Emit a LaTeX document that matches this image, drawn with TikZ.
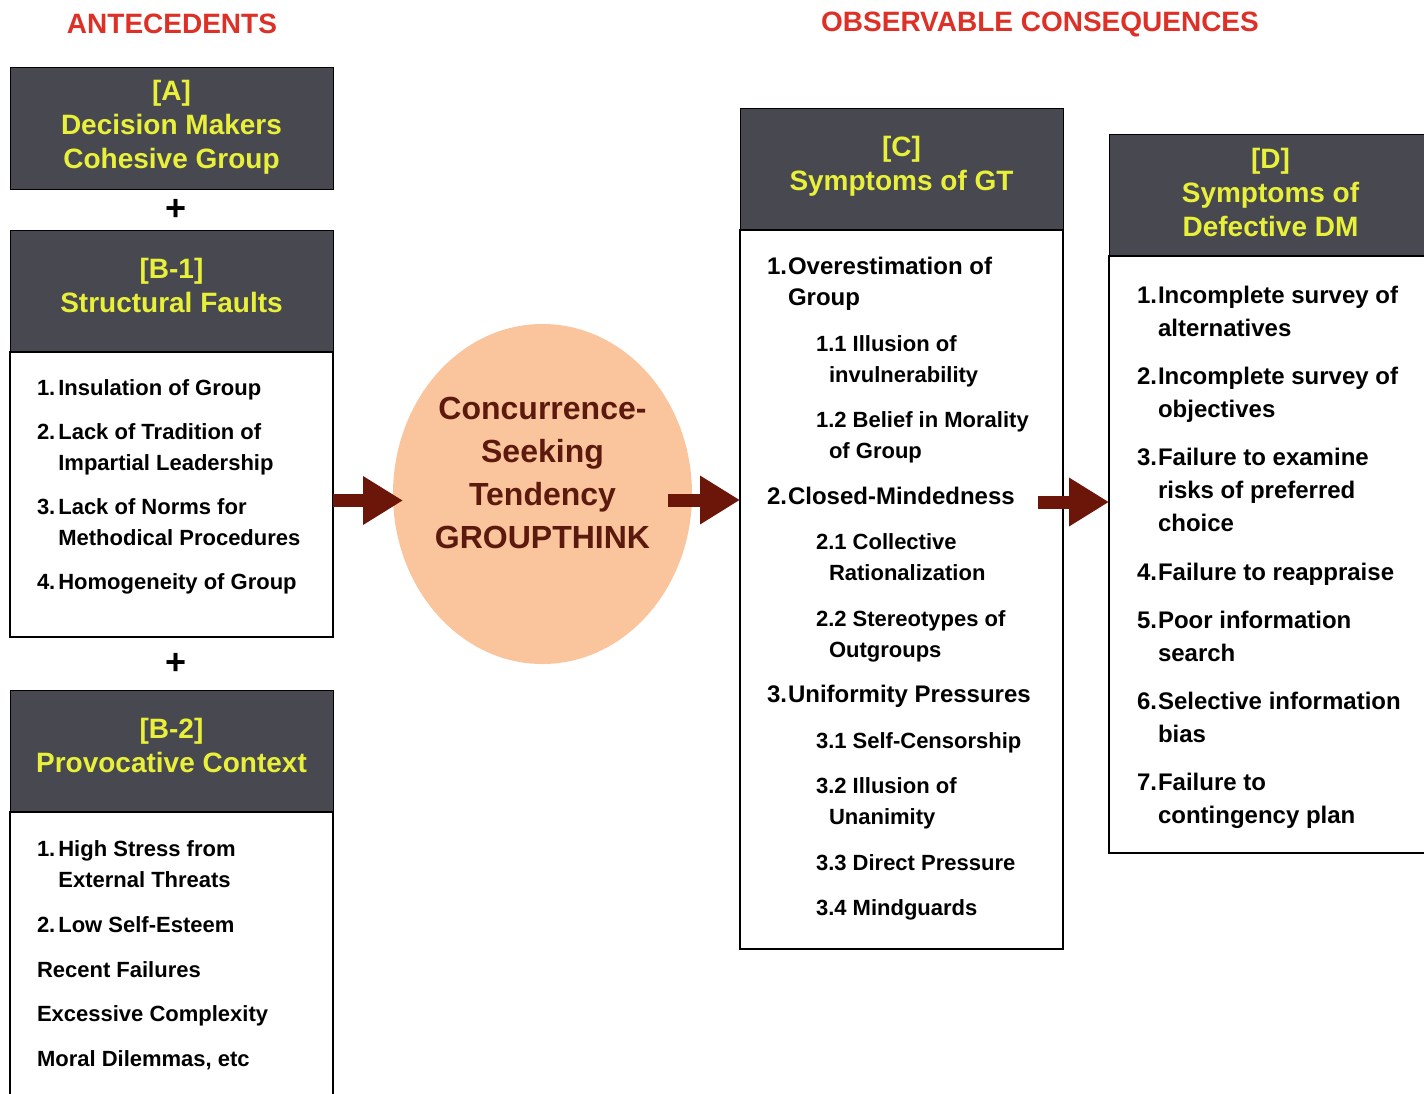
\documentclass[tikz,border=0pt]{standalone}
\usepackage{fontspec}
\setmainfont{Liberation Sans}
\usepackage{array}
\usetikzlibrary{arrows.meta, positioning, shapes.geometric, calc}

\definecolor{headgray}{RGB}{72,72,80}
\definecolor{headyellow}{RGB}{232,240,58}
\definecolor{titlered}{RGB}{221,48,38}
\definecolor{peach}{RGB}{250,196,156}
\definecolor{arrowmaroon}{RGB}{108,22,10}
\definecolor{textmaroon}{RGB}{92,26,14}

\newcommand{\sz}[2]{\fontsize{#1}{#2}\selectfont}
\newcommand{\subline}[2]{\hspace{#1pt}{\sz{22}{30}#2}}

\begin{document}
\begin{tikzpicture}[
        x = 1pt, y = -1pt, % pixel grid, y runs down
        > = {Triangle[length=40pt, width=46pt]}, % arrow head style
        node distance = 0pt,
        outer sep = 0pt
    ]

    \tikzstyle{title}=[
        font = \bfseries\sz{28}{34},
        text = titlered
    ]
    \tikzstyle{headbox}=[
        draw = black,
        fill = headgray,
        line width = 1pt,
        minimum width = 323pt,
        minimum height = 122pt,
        align = center,
        text = headyellow,
        text depth = 12pt,
        font = \bfseries\sz{28}{34}
    ]
    \tikzstyle{bodybox}=[
        draw = black,
        fill = white,
        line width = 1.2pt,
        minimum width = 323pt
    ]
    \tikzstyle{listtext}=[
        inner sep = 0pt,
        anchor = north west
    ]
    \tikzstyle{plus}=[
        font = \bfseries\sz{36}{36}
    ]
    \tikzstyle{bigarrow}=[
        ->,
        draw = arrowmaroon,
        line width = 13pt
    ]

    \useasboundingbox (0,0) rectangle (1424,1093);
    \fill[white] (0,0) rectangle (1424,1093);

    % titles
    \node[title] (anttitle) at (172,24) {ANTECEDENTS};
    \node[title] (obstitle) at (1040,24) {OBSERVABLE CONSEQUENCES};

    % antecedents column
    \node[headbox, text depth=8pt] (a) at (171.5,128) {[A]\\Decision Makers\\Cohesive Group};
    \node[headbox] (b1head) [below=41pt of a] {[B-1]\\Structural Faults};
    \node[bodybox, minimum height=285pt] (b1body) [below=of b1head] {};
    \node[headbox] (b2head) [below=53pt of b1body] {[B-2]\\Provocative Context};
    \node[bodybox, minimum height=300pt] (b2body) [below=of b2head] {};

    \node[plus] (plus1) at ([xshift=5pt]$(a.south)!0.5!(b1head.north)$) {+};
    \node[plus] (plus2) at ([xshift=5pt]$(b1body.south)!0.5!(b2head.north)$) {+};

    \node[listtext, font=\bfseries\sz{22}{31}] (b1list)
        [below right=22pt and 27pt of b1body.north west] {%
        \begin{tabular}{@{}l@{\hspace{3pt}}l@{}}
            1. & Insulation of Group\\[13pt]
            2. & Lack of Tradition of\\
               & Impartial Leadership\\[13pt]
            3. & Lack of Norms for\\
               & Methodical Procedures\\[13pt]
            4. & Homogeneity of Group
        \end{tabular}};

    \node[listtext, font=\bfseries\sz{22}{31}] (b2list)
        [below right=23pt and 27pt of b2body.north west] {%
        \begin{tabular}{@{}l@{\hspace{3pt}}l@{}}
            1. & High Stress from\\
               & External Threats\\[13.75pt]
            2. & Low Self-Esteem\\[13.75pt]
            \multicolumn{2}{@{}l@{}}{Recent Failures}\\[13.75pt]
            \multicolumn{2}{@{}l@{}}{Excessive Complexity}\\[13.75pt]
            \multicolumn{2}{@{}l@{}}{Moral Dilemmas, etc}
        \end{tabular}};

    % groupthink
    \node[ellipse, fill=peach, minimum width=299pt, minimum height=340pt] (gt) at (542.5,494) {};
    \node[align=center, text=textmaroon, font=\bfseries\sz{32}{43}] (gtlabel)
        at ([yshift=21pt]gt.center) {Concurrence-\\Seeking\\Tendency\\GROUPTHINK};

    % consequences
    \node[headbox] (chead) at (901.5,169) {[C]\\Symptoms of GT};
    \node[bodybox, minimum height=719pt] (cbody) [below=of chead] {};
    \node[headbox, text depth=5pt] (dhead) at (1270.5,195) {[D]\\Symptoms of\\Defective DM};
    \node[bodybox, minimum height=597pt] (dbody) [below=of dhead] {};

    \node[listtext, font=\bfseries\sz{24}{31}] (clist)
        [below right=23pt and 27pt of cbody.north west] {%
        \begin{tabular}{@{}l@{\hspace{1pt}}l@{}}
            1. & Overestimation of\\
               & Group\\[14.5pt]
               & \subline{28}{1.1 Illusion of}\\
               & \subline{41}{invulnerability}\\[14.5pt]
               & \subline{28}{1.2 Belief in Morality}\\
               & \subline{41}{of Group}\\[14.5pt]
            2. & Closed-Mindedness\\[14.5pt]
               & \subline{28}{2.1 Collective}\\
               & \subline{41}{Rationalization}\\[14.5pt]
               & \subline{28}{2.2 Stereotypes of}\\
               & \subline{41}{Outgroups}\\[14.5pt]
            3. & Uniformity Pressures\\[14.5pt]
               & \subline{28}{3.1 Self-Censorship}\\[14.5pt]
               & \subline{28}{3.2 Illusion of}\\
               & \subline{41}{Unanimity}\\[14.5pt]
               & \subline{28}{3.3 Direct Pressure}\\[14.5pt]
               & \subline{28}{3.4 Mindguards}
        \end{tabular}};

    \node[listtext, font=\bfseries\sz{24}{33}] (dlist)
        [below right=24pt and 28pt of dbody.north west] {%
        \begin{tabular}{@{}l@{\hspace{1pt}}l@{}}
            1. & Incomplete survey of\\
               & alternatives\\[15.3pt]
            2. & Incomplete survey of\\
               & objectives\\[15.3pt]
            3. & Failure to examine\\
               & risks of preferred\\
               & choice\\[15.3pt]
            4. & Failure to reappraise\\[15.3pt]
            5. & Poor information\\
               & search\\[15.3pt]
            6. & Selective information\\
               & bias\\[15.3pt]
            7. & Failure to\\
               & contingency plan
        \end{tabular}};

    % arrows
    \draw[bigarrow] ([yshift=-6pt]b1body.east) -- ([xshift=10pt, yshift=-6pt]b1body.east -| gt.west);
    \draw[bigarrow] ([xshift=-24pt, yshift=-6pt]gt.east) -- ([yshift=-6pt]gt.east -| cbody.west);
    \draw[bigarrow] ([xshift=-25pt, yshift=-8pt]cbody.east |- gt.east) -- ([yshift=-8pt]dbody.west |- gt.east);

\end{tikzpicture}
\end{document}
